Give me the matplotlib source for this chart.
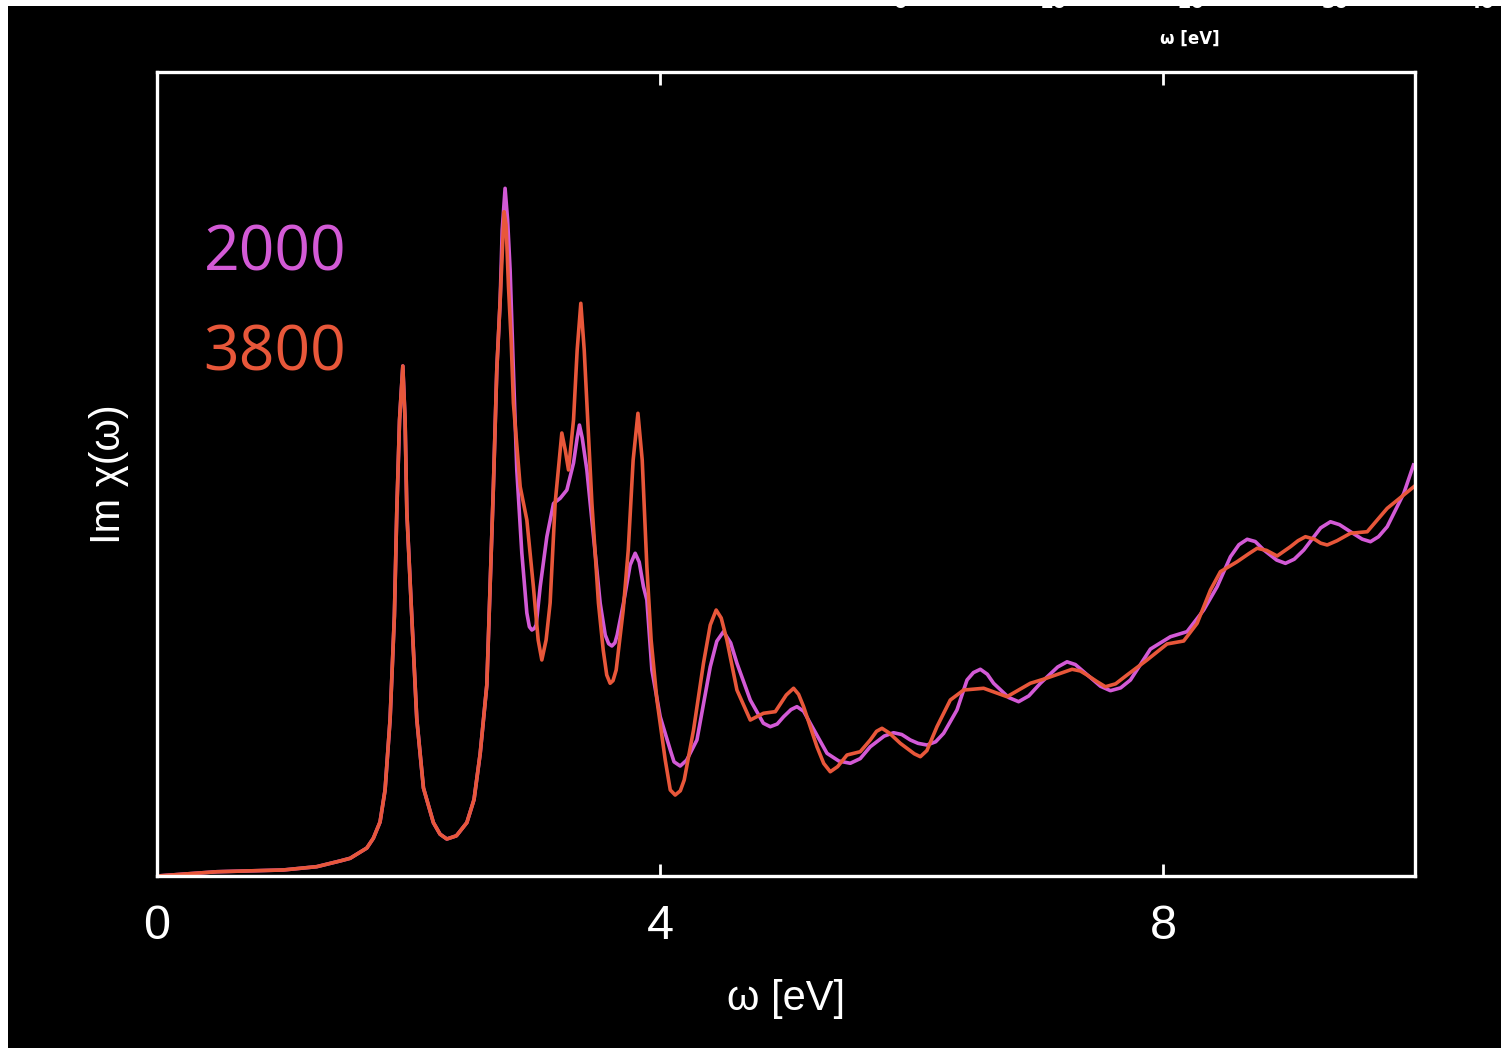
import matplotlib

matplotlib.use("Agg")
import matplotlib.pyplot as plt
from matplotlib.patches import Rectangle

# Both spectra coincide below ~2.7 eV (first exciton peak and the dip after it).
omega_low = [0.000, 0.475, 1.004, 1.270, 1.455, 1.535, 1.668, 1.720, 1.773, 1.813,
             1.853, 1.887, 1.906, 1.928, 1.954, 1.972, 1.986, 2.025, 2.065, 2.118,
             2.197, 2.250, 2.304, 2.380, 2.463, 2.520, 2.569, 2.622, 2.648, 2.674,
             2.701]
chi_low = [0.000, 0.053, 0.075, 0.116, 0.187, 0.220, 0.348, 0.470, 0.672, 1.070,
           1.953, 3.234, 4.527, 5.672, 6.343, 5.672, 4.527, 3.234, 1.953, 1.095,
           0.664, 0.520, 0.460, 0.500, 0.664, 0.950, 1.522, 2.379, 3.598, 4.842,
           6.294]

# Nk = 2000
omega_2000 = [2.728, 2.744, 2.767, 2.787, 2.807, 2.833, 2.860, 2.900, 2.940, 2.960,
              2.980, 3.000, 3.014, 3.046, 3.099, 3.152, 3.205, 3.258, 3.311, 3.340,
              3.358, 3.380, 3.417, 3.470, 3.523, 3.563, 3.590, 3.616, 3.640, 3.658,
              3.708, 3.761, 3.801, 3.833, 3.867, 3.894, 3.934, 4.000, 4.080, 4.110,
              4.159, 4.210, 4.292, 4.398, 4.450, 4.503, 4.560, 4.610, 4.716, 4.820,
              4.875, 4.930, 4.981, 5.040, 5.087, 5.140, 5.193, 5.326, 5.420, 5.511,
              5.590, 5.670, 5.780, 5.855, 5.920, 5.988, 6.050, 6.121, 6.190, 6.253,
              6.359, 6.439, 6.490, 6.545, 6.600, 6.650, 6.770, 6.849, 6.930, 7.022,
              7.160, 7.234, 7.300, 7.366, 7.500, 7.579, 7.660, 7.738, 7.897, 8.056,
              8.188, 8.320, 8.427, 8.533, 8.600, 8.666, 8.730, 8.798, 8.900, 8.970,
              9.040, 9.116, 9.250, 9.328, 9.400, 9.487, 9.580, 9.646, 9.710, 9.779,
              9.911, 9.988]
chi_2000 = [7.164, 8.035, 8.553, 8.159, 7.537, 6.294, 5.050, 4.017, 3.271, 3.100,
            3.060, 3.080, 3.122, 3.598, 4.220, 4.634, 4.698, 4.801, 5.137, 5.450,
            5.609, 5.450, 5.050, 4.220, 3.392, 2.998, 2.890, 2.861, 2.900, 2.998,
            3.392, 3.868, 4.014, 3.905, 3.598, 3.433, 2.562, 1.981, 1.567, 1.420,
            1.368, 1.440, 1.692, 2.603, 2.920, 3.039, 2.900, 2.646, 2.189, 1.900,
            1.857, 1.890, 1.981, 2.070, 2.106, 2.050, 1.899, 1.526, 1.430, 1.402,
            1.460, 1.608, 1.740, 1.782, 1.760, 1.692, 1.650, 1.629, 1.670, 1.775,
            2.065, 2.438, 2.530, 2.571, 2.510, 2.397, 2.220, 2.168, 2.240, 2.397,
            2.600, 2.664, 2.630, 2.541, 2.360, 2.305, 2.340, 2.438, 2.823, 2.976,
            3.039, 3.308, 3.598, 3.971, 4.120, 4.188, 4.160, 4.055, 3.930, 3.889,
            3.940, 4.055, 4.330, 4.406, 4.370, 4.282, 4.190, 4.158, 4.220, 4.345,
            4.760, 5.112]

# Nk = 3800
omega_3800 = [2.728, 2.759, 2.775, 2.794, 2.815, 2.833, 2.887, 2.940, 2.992, 3.030,
              3.059, 3.093, 3.125, 3.165, 3.218, 3.245, 3.271, 3.311, 3.340, 3.369,
              3.396, 3.417, 3.457, 3.509, 3.547, 3.575, 3.602, 3.625, 3.650, 3.706,
              3.746, 3.785, 3.823, 3.857, 3.894, 3.928, 3.974, 4.040, 4.080, 4.119,
              4.160, 4.191, 4.265, 4.344, 4.398, 4.445, 4.485, 4.530, 4.610, 4.716,
              4.821, 4.915, 5.002, 5.060, 5.100, 5.140, 5.246, 5.300, 5.352, 5.410,
              5.485, 5.590, 5.670, 5.720, 5.763, 5.820, 5.909, 6.020, 6.068, 6.120,
              6.200, 6.306, 6.412, 6.571, 6.757, 6.942, 7.046, 7.200, 7.274, 7.340,
              7.393, 7.470, 7.539, 7.620, 7.711, 7.870, 8.029, 8.161, 8.268, 8.374,
              8.453, 8.586, 8.680, 8.745, 8.820, 8.904, 9.010, 9.070, 9.129, 9.200,
              9.250, 9.302, 9.380, 9.487, 9.620, 9.779, 9.991]
chi_3800 = [7.164, 8.262, 8.097, 7.330, 6.667, 5.883, 4.842, 4.428, 3.598, 2.935,
            2.687, 2.935, 3.396, 4.639, 5.510, 5.299, 5.050, 5.672, 6.542, 7.123,
            6.542, 5.883, 4.639, 3.396, 2.811, 2.500, 2.397, 2.430, 2.562, 3.308,
            4.055, 5.174, 5.755, 5.174, 3.847, 2.935, 2.189, 1.443, 1.070, 1.007,
            1.060, 1.194, 1.816, 2.646, 3.122, 3.308, 3.209, 2.935, 2.313, 1.940,
            2.024, 2.044, 2.251, 2.335, 2.260, 2.106, 1.608, 1.400, 1.297, 1.360,
            1.505, 1.546, 1.692, 1.800, 1.837, 1.780, 1.650, 1.520, 1.484, 1.560,
            1.857, 2.189, 2.313, 2.335, 2.230, 2.397, 2.447, 2.530, 2.571, 2.550,
            2.500, 2.420, 2.354, 2.390, 2.500, 2.687, 2.886, 2.923, 3.143, 3.557,
            3.785, 3.909, 4.010, 4.076, 4.050, 3.980, 4.096, 4.170, 4.220, 4.190,
            4.140, 4.117, 4.170, 4.263, 4.282, 4.573, 4.842]

series_labels = ["2000", "3800"]
x_ticks = [0, 4, 8]
# tick labels of the panel stacked above, cut off by the top edge
upper_ticks = ["0", "10", "20", "30", "40"]

VIOLET = "#d35ad6"
ORANGE = "#e8573a"

fig = plt.figure(figsize=(15.01, 10.55), dpi=100, facecolor="white")
fig.patches.append(Rectangle((8 / 1501, 7 / 1055), 1.0, 1042 / 1055,
                             transform=fig.transFigure, facecolor="black",
                             edgecolor="none", zorder=-10))

# remnants of the panel above
for lab, px in zip(upper_ticks, [900, 1053, 1191, 1335, 1481]):
    fig.text(px / 1501, 1 - 12 / 1055, lab, color="white", fontsize=14,
             fontweight="bold", ha="center", va="bottom", family="DejaVu Sans")
fig.text(1190 / 1501, 1 - 39 / 1055, "ω [eV]", color="white", fontsize=12,
         fontweight="bold", ha="center", va="center", family="DejaVu Sans")

ax = fig.add_axes([157 / 1501, 179 / 1055, 1258 / 1501, 804 / 1055])
ax.set_facecolor("black")

ax.plot(omega_low + omega_2000, chi_low + chi_2000, color=VIOLET, lw=2.6,
        solid_joinstyle="round")
ax.plot(omega_low + omega_3800, chi_low + chi_3800, color=ORANGE, lw=2.6,
        solid_joinstyle="round")

ax.set_xlim(0, 10)
ax.set_ylim(0, 10)
for s in ax.spines.values():
    s.set_color("white")
    s.set_linewidth(2.4)

ax.set_xticks(x_ticks)
ax.set_yticks([])
ax.tick_params(axis="x", direction="in", top=True, length=9, width=2,
               color="white", labelcolor="white", labelsize=35, pad=20)
for t in ax.get_xticklabels():
    t.set_family("Liberation Sans")
    t.set_x(t.get_position()[0])

ax.set_xlabel("ω [eV]", color="white", fontsize=30, family="Liberation Sans",
              labelpad=22)
ax.set_ylabel("Im χ(ω)", color="white", fontsize=30, family="Liberation Sans",
              labelpad=20)

for lab, col, y in zip(series_labels, [VIOLET, ORANGE], [0.773, 0.649]):
    ax.text(0.037, y, lab, transform=ax.transAxes, color=col, fontsize=45,
            family="Open Sans", ha="left", va="center")

fig.savefig("out.png", dpi=100, facecolor=fig.get_facecolor())
